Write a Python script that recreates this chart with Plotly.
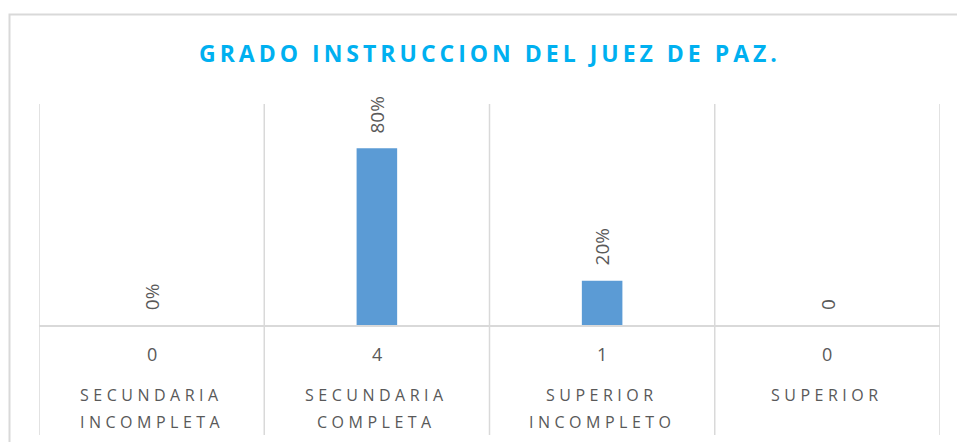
import plotly.graph_objects as go

categories = ["SECUNDARIA INCOMPLETA", "SECUNDARIA COMPLETA", "SUPERIOR INCOMPLETO", "SUPERIOR"]
cat_line1 = ["SECUNDARIA", "SECUNDARIA", "SUPERIOR", "SUPERIOR"]
cat_line2 = ["INCOMPLETA", "COMPLETA", "INCOMPLETO", ""]
values = [0, 4, 1, 0]
bar_labels = ["0%", "80%", "20%", "0"]
title_text = "GRADO INSTRUCCION DEL JUEZ DE PAZ."

W, H = 957, 442
ML, MR, MT, MB = 39, 17, 104, 117
PH = H - MT - MB
PW = W - ML - MR

def py(p):
    # pixel y -> paper y
    return (H - MB - p) / PH

def px(p):
    return (p - ML) / PW

GRID = "#d9d9d9"
TXT = "#595959"
FONT = "Open Sans, sans-serif"

fig = go.Figure()
fig.add_trace(go.Bar(
    x=categories, y=values, width=0.18,
    marker=dict(color="#5B9BD5", line=dict(width=0)),
    hoverinfo="skip",
))

annotations = []
for c, v, lab in zip(categories, values, bar_labels):
    annotations.append(dict(
        x=c, y=v, xref="x", yref="y", text=lab, showarrow=False,
        textangle=-90, xanchor="center", yanchor="bottom", yshift=13,
        font=dict(family=FONT, size=19, color=TXT),
    ))
for c, v, l1, l2 in zip(categories, values, cat_line1, cat_line2):
    annotations.append(dict(
        x=c, y=py(354), xref="x", yref="paper", text=str(v), showarrow=False,
        xanchor="center", yanchor="middle",
        font=dict(family=FONT, size=18, color=TXT),
    ))
    annotations.append(dict(
        x=c, y=py(395), xref="x", yref="paper",
        text='<span style="letter-spacing:4.5px">' + l1 + '</span>', showarrow=False,
        xanchor="center", yanchor="middle",
        font=dict(family=FONT, size=16, color=TXT),
    ))
    if l2:
        annotations.append(dict(
            x=c, y=py(422), xref="x", yref="paper",
            text='<span style="letter-spacing:4.5px">' + l2 + '</span>', showarrow=False,
            xanchor="center", yanchor="middle",
            font=dict(family=FONT, size=16, color=TXT),
        ))
annotations.append(dict(
    x=0.5, y=py(53), xref="paper", yref="paper",
    text='<span style="letter-spacing:4px"><b>' + title_text + '</b></span>', showarrow=False,
    xanchor="center", yanchor="middle",
    font=dict(family=FONT, size=23, color="#00B0F0"),
))

shapes = []
# category boundary lines, running down through the table area
for b in [-0.5, 0.5, 1.5, 2.5, 3.5]:
    shapes.append(dict(type="line", xref="x", yref="paper", x0=b, x1=b,
                       y0=py(435), y1=1, line=dict(color=GRID, width=1.5), layer="below"))
# outer chart border
shapes.append(dict(type="rect", xref="paper", yref="paper",
                   x0=px(9.5), x1=px(980), y0=py(470), y1=py(14.5),
                   line=dict(color=GRID, width=2), layer="below"))

fig.update_layout(
    width=W, height=H,
    margin=dict(l=ML, r=MR, t=MT, b=MB),
    paper_bgcolor="white", plot_bgcolor="white",
    showlegend=False,
    xaxis=dict(range=[-0.5, 3.5], showgrid=False, showticklabels=False, ticks="",
               showline=True, linecolor=GRID, linewidth=1.5, zeroline=False, fixedrange=True),
    yaxis=dict(range=[0, 5], showgrid=False, showticklabels=False, ticks="",
               zeroline=False, showline=False, fixedrange=True),
    annotations=annotations,
    shapes=shapes,
)

fig.write_html("out.html", config={"displayModeBar": False},
               post_script="document.body.style.margin='0';")
